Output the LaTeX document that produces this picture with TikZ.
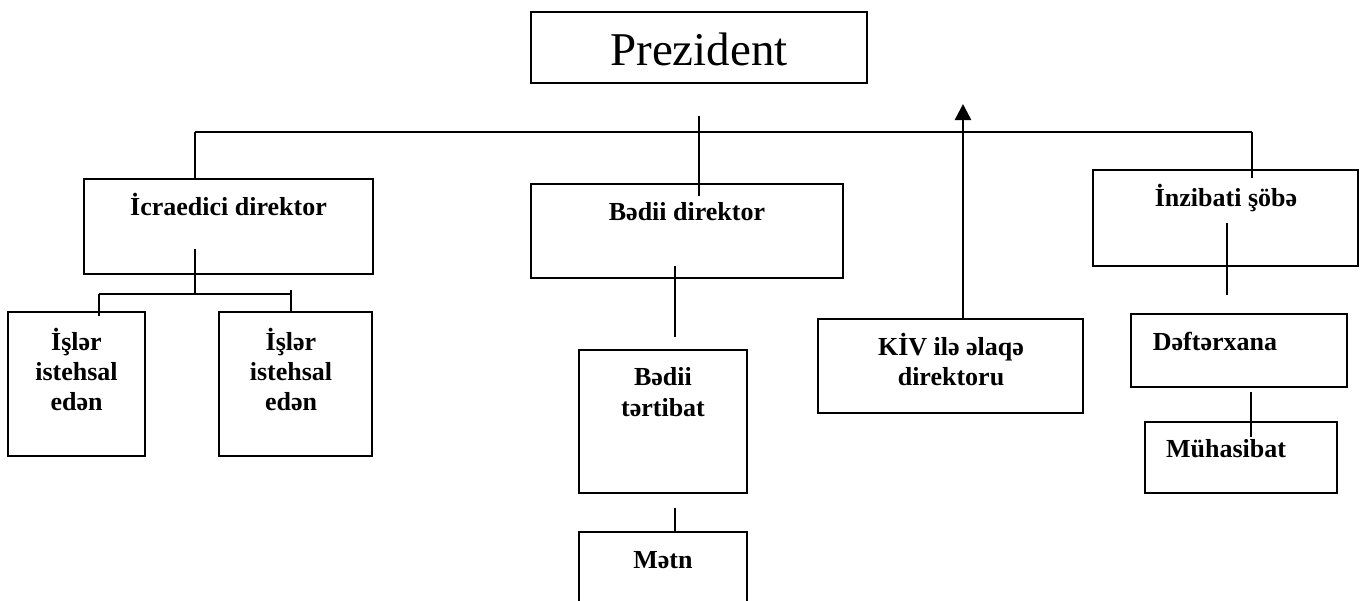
\documentclass[tikz,border=0pt]{standalone}
\usepackage{fontspec}
\setmainfont{Liberation Serif}
\usetikzlibrary{arrows.meta,calc}

\tikzset{
  box/.style={draw=black, line width=2pt, rectangle, inner sep=0pt},
  link/.style={draw=black, line width=2pt},
  uplink/.style={draw=black, line width=2.5pt, -{Triangle[width=16pt,length=16pt]}},
  lbl/.style={anchor=base, inner sep=0pt, font=\fontsize{26}{30}\selectfont\bfseries},
  title/.style={anchor=base, inner sep=0pt, font=\fontsize{47}{52}\selectfont},
}

\begin{document}
\begin{tikzpicture}[x=1pt, y=-1pt]
\useasboundingbox (0,0) rectangle (1360,600);
\clip (0,0) rectangle (1360,600);

% boxes
\node[box, minimum width=336pt, minimum height=71pt]  (pres) at (699,47.5)   {};
\node[box, minimum width=289pt, minimum height=95pt]  (icr)  at (228.5,226.5) {};
\node[box, minimum width=137pt, minimum height=144pt] (isl1) at (76.5,384)   {};
\node[box, minimum width=153pt, minimum height=144pt] (isl2) at (295.5,384)  {};
\node[box, minimum width=312pt, minimum height=94pt]  (bd)   at (687,231)    {};
\node[box, minimum width=168pt, minimum height=143pt] (bt)   at (663,421.5)  {};
\node[box, minimum width=168pt, minimum height=108pt] (metn) at (663,586)    {};
\node[box, minimum width=265pt, minimum height=94pt]  (kiv)  at (950.5,366)  {};
\node[box, minimum width=265pt, minimum height=96pt]  (inz)  at (1225.5,218) {};
\node[box, minimum width=216pt, minimum height=73pt]  (def)  at (1239,350.5) {};
\node[box, minimum width=192pt, minimum height=71pt]  (muh)  at (1241,457.5) {};

% labels
\node[title] (presT) at (699,65) {Prezident};
\node[lbl] (icrT) at (228.5,215) {İcraedici direktor};
\node[lbl] (isl1a) at (76.5,350) {İşlər};
\node[lbl] (isl1b) at (76.5,380) {istehsal};
\node[lbl] (isl1c) at (76.5,410) {edən};
\node[lbl] (isl2a) at (291,350) {İşlər};
\node[lbl] (isl2b) at (291,380) {istehsal};
\node[lbl] (isl2c) at (291,410) {edən};
\node[lbl] (bdT) at (687,220) {Bədii direktor};
\node[lbl] (btA) at (663,385) {Bədii};
\node[lbl] (btB) at (663,416) {tərtibat};
\node[lbl] (metnT) at (663,568) {Mətn};
\node[lbl] (kivA) at (951,355) {KİV ilə əlaqə};
\node[lbl] (kivB) at (951,385) {direktoru};
\node[lbl] (inzT) at (1226,206) {İnzibati şöbə};
\node[lbl] (defT) at (1215,350) {Dəftərxana};
\node[lbl] (muhT) at (1226,457) {Mühasibat};

% main distribution line
\coordinate (busL) at (195,132);
\coordinate (busR) at (1252,132);
\coordinate (ptop) at (699,116);
\draw[link] (busL) -- (busR);
\draw[link] (busL) -- (busL |- icr.north);
\draw[link] (busR) -- ($(busR |- inz.north)+(0,9)$);
\draw[link] (ptop) -- ($(ptop |- bd.north)+(0,13)$);

% arrow from the press director
\coordinate (tipK) at (963,104);
\draw[uplink] (tipK |- kiv.north) -- (tipK);

% executive director branch
\coordinate (icrIn) at (195,249);
\coordinate (subL) at (99,294);
\coordinate (subR) at (291,294);
\draw[link] (icrIn) -- (icrIn |- subL);
\draw[link] (subL) -- (subR);
\draw[link] (subL) -- ($(subL |- isl1.north)+(0,5)$);
\draw[link] ($(subR)+(0,-4)$) -- ($(subR |- isl2.north)+(0,1)$);

% art director branch
\coordinate (bdIn) at (675,266);
\coordinate (bdOut) at (675,337);
\draw[link] (bdIn) -- (bdOut);
\coordinate (btOut) at (675,508);
\draw[link] (btOut) -- (btOut |- metn.north);

% administrative branch
\coordinate (inzIn) at (1227,223);
\coordinate (inzOut) at (1227,295);
\draw[link] (inzIn) -- (inzOut);
\coordinate (defOut) at (1251,392);
\draw[link] (defOut) -- ($(defOut |- muh.north)+(0,16)$);
\end{tikzpicture}
\end{document}
